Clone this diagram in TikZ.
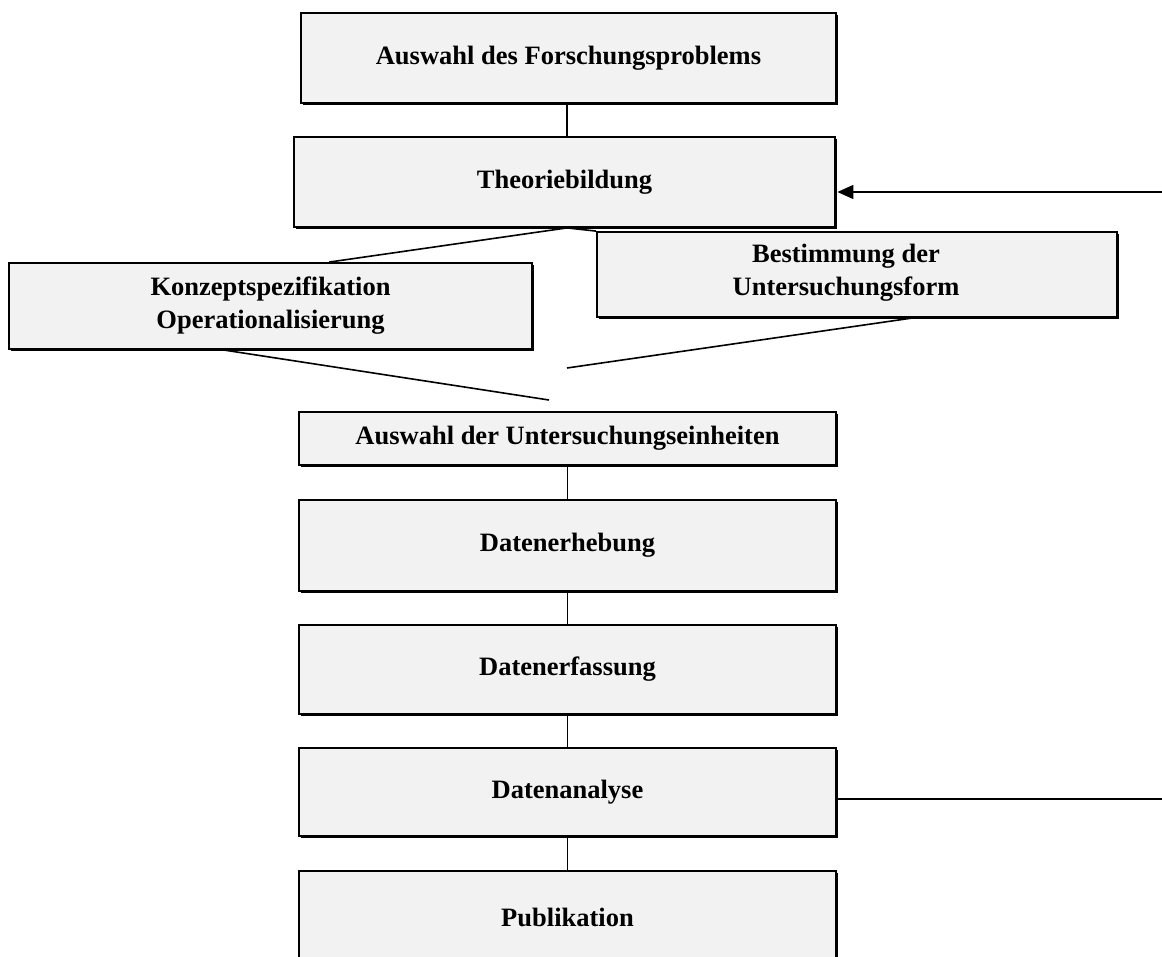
\documentclass[tikz,border=0pt]{standalone}
\usepackage{fontspec}
\setmainfont{Liberation Serif}
\usetikzlibrary{arrows.meta,shadows,calc}
\definecolor{boxgray}{RGB}{242,242,242}
\begin{document}
\begin{tikzpicture}[x=1pt,y=-1pt,
  stepbox/.style={draw=black,line width=1.8pt,fill=boxgray,rectangle,inner sep=0pt,
    align=center,font=\fontsize{26.5}{33}\selectfont\bfseries,
    drop shadow={shadow xshift=1.6pt,shadow yshift=-1.6pt,fill=black,opacity=1}},
  conn/.style={draw=black,line width=1.6pt}]
\useasboundingbox (0,0) rectangle (1162,956);
\coordinate (e3) at (549,400);
\coordinate (e4) at (567,368);
\coordinate (a1) at (1162,192);
\coordinate (a2) at (1162,799);

\node[stepbox,minimum width=535pt,minimum height=90pt] (b1) at (568.5,58) {Auswahl des Forschungsproblems};
\node[stepbox,minimum width=541pt,minimum height=90pt] (b2) at (564.5,182) {Theoriebildung};
\node[stepbox,minimum width=523pt,minimum height=86pt] (b3) at (270.5,306) {Konzeptspezifikation\\Operationalisierung};
\node[stepbox,minimum width=520pt,minimum height=85pt] (b4) at (857,274.5) {};
\node[font=\fontsize{26.5}{33}\selectfont\bfseries,align=center,inner sep=0pt] (b4t) at (846,273) {Bestimmung der\\Untersuchungsform};
\node[stepbox,minimum width=537pt,minimum height=53pt] (b5) at (567.5,438.5) {Auswahl der Untersuchungseinheiten};
\node[stepbox,minimum width=537pt,minimum height=91pt] (b6) at (567.5,545.5) {Datenerhebung};
\node[stepbox,minimum width=537pt,minimum height=89pt] (b7) at (567.5,669.5) {Datenerfassung};
\node[stepbox,minimum width=537pt,minimum height=88pt] (b8) at (567.5,792) {Datenanalyse};
\node[stepbox,minimum width=537pt,minimum height=92pt] (b9) at (567.5,917) {Publikation};

\coordinate (b2s) at ([xshift=2.5pt]b2.south);
\draw[conn] ([xshift=-1.5pt]b1.south) -- ([xshift=-1.5pt]b1.south |- b2.north);
\draw[conn] (b2s) -- ([xshift=321pt]b3.north west);
\draw[conn] (b2s) -- (b4.north west);
\draw[conn] ([xshift=215pt]b3.south west) -- (e3);
\draw[conn] ([xshift=317pt]b4.south west) -- (e4);
\draw[conn] (b5.south) -- (b5.south |- b6.north);
\draw[conn] (b6.south) -- (b6.south |- b7.north);
\draw[conn] (b7.south) -- (b7.south |- b8.north);
\draw[conn] (b8.south) -- (b8.south |- b9.north);
\draw[conn,-{Triangle[length=16pt,width=14pt]}] (a1) -- ([xshift=1.5pt]b2.east |- a1);
\draw[conn,line width=1.8pt] ([xshift=1.5pt]b8.east |- a2) -- (a2);
\end{tikzpicture}
\end{document}
